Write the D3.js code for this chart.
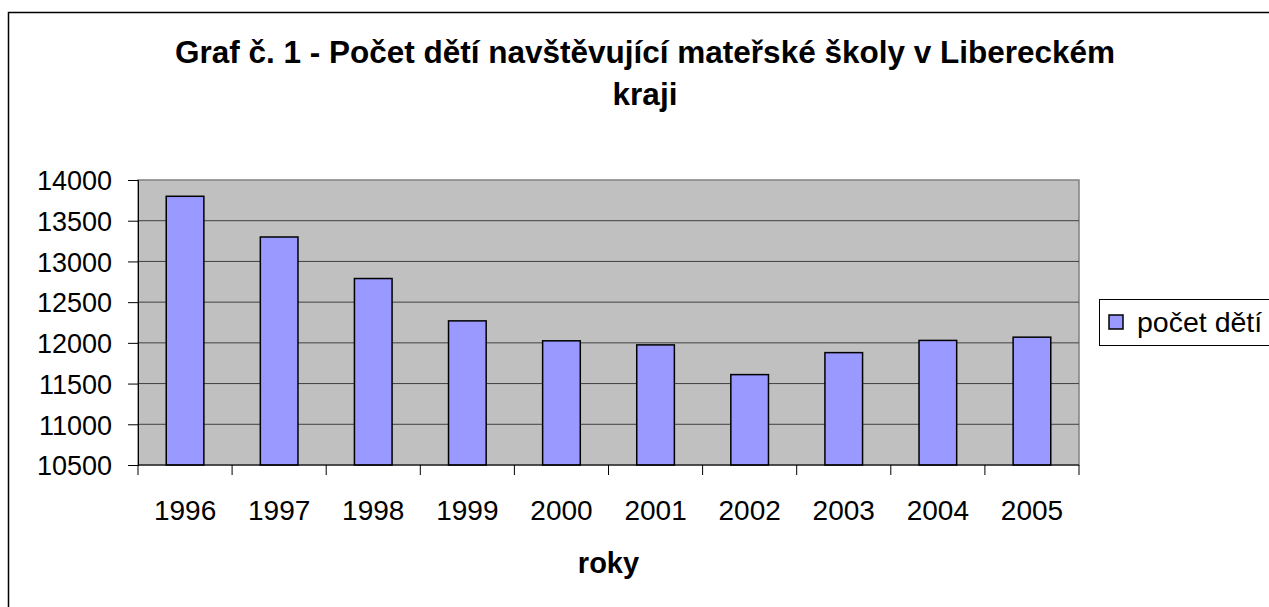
<!DOCTYPE html>
<html>
<head>
<meta charset="utf-8">
<script src="https://cdn.jsdelivr.net/npm/d3@7"></script>
<style>
  body { margin: 0; background: #fff; }
  text { font-family: "Liberation Sans", Arial, sans-serif; fill: #000; }
</style>
</head>
<body>
<svg id="chart" width="1269" height="607"></svg>
<script>
// data
let years = ["1996", "1997", "1998", "1999", "2000", "2001", "2002", "2003", "2004", "2005"];
let children = [13800, 13300, 12790, 12270, 12025, 11975, 11610, 11880, 12030, 12070];
let yTicks = [10500, 11000, 11500, 12000, 12500, 13000, 13500, 14000];

let titleLines = ["Graf č. 1 - Počet dětí navštěvující mateřské školy v Libereckém", "kraji"];
let xTitle = "roky";
let seriesName = "počet dětí";

let plot = { left: 138, top: 180, right: 1079, bottom: 465 }; // inner plot area
let barColour = "#9999ff";
let fontSize = 27;

let svg = d3.select("#chart");

// outer chart border (runs off the right and bottom edge)
svg.append("rect")
    .attr("x", 8.5).attr("y", 12.5)
    .attr("width", 1300).attr("height", 700)
    .attr("fill", "#fff")
    .attr("stroke", "#000")
    .attr("stroke-width", 1.5);

let x = d3.scaleBand()
    .domain(years)
    .range([plot.left, plot.right])
    .paddingInner(0.6)
    .paddingOuter(0.3);

let y = d3.scaleLinear()
    .domain([10500, 14000])
    .range([plot.bottom, plot.top]);

// plot background
svg.append("rect")
    .attr("x", plot.left).attr("y", plot.top)
    .attr("width", plot.right - plot.left)
    .attr("height", plot.bottom - plot.top)
    .attr("fill", "#c0c0c0")
    .attr("stroke", "#808080")
    .attr("stroke-width", 1.5);

// horizontal gridlines
svg.append("g")
    .selectAll("line")
    .data(yTicks.slice(1, -1))
    .join("line")
    .attr("x1", plot.left).attr("x2", plot.right)
    .attr("y1", d => y(d)).attr("y2", d => y(d))
    .attr("stroke", "#404040")
    .attr("stroke-width", 1);

// bars
svg.append("g")
    .selectAll("rect")
    .data(years)
    .join("rect")
    .attr("x", d => x(d))
    .attr("y", (d, i) => y(children[i]))
    .attr("width", x.bandwidth())
    .attr("height", (d, i) => y(10500) - y(children[i]))
    .attr("fill", barColour)
    .attr("stroke", "#000")
    .attr("stroke-width", 1.5);

// y axis
let yAxis = d3.axisLeft(y)
    .tickValues(yTicks)
    .tickFormat(d3.format("d"))
    .tickSize(10)
    .tickPadding(16);
let gy = svg.append("g")
    .attr("transform", "translate(" + plot.left + ",0)")
    .call(yAxis);
gy.select(".domain").attr("stroke", "#000").attr("stroke-width", 1);
gy.selectAll(".tick line").attr("stroke", "#000");
gy.selectAll("text")
    .style("font-size", fontSize + "px")
    .attr("font-family", null)
    .attr("dy", "0.36em");

// x axis: labels centered under bars, ticks between categories
let xAxis = d3.axisBottom(x).tickSize(0).tickPadding(35);
let gx = svg.append("g")
    .attr("transform", "translate(0," + plot.bottom + ")")
    .call(xAxis);
gx.select(".domain").remove();
gx.selectAll("text")
    .style("font-size", "28px")
    .attr("font-family", null);

let step = x.step();
let bounds = years.map(d => x(d) - step * x.paddingOuter()).concat([plot.right]);
svg.append("g")
    .selectAll("line")
    .data(bounds)
    .join("line")
    .attr("x1", d => d).attr("x2", d => d)
    .attr("y1", plot.bottom).attr("y2", plot.bottom + 10)
    .attr("stroke", "#000");
svg.append("line")
    .attr("x1", plot.left).attr("x2", plot.right)
    .attr("y1", plot.bottom).attr("y2", plot.bottom)
    .attr("stroke", "#000");

// title
svg.append("g")
    .selectAll("text")
    .data(titleLines)
    .join("text")
    .attr("x", 645)
    .attr("y", (d, i) => 63 + i * 42)
    .attr("text-anchor", "middle")
    .style("font-size", "31.5px")
    .style("font-weight", "bold")
    .text(d => d);

// x axis title
svg.append("text")
    .attr("x", (plot.left + plot.right) / 2)
    .attr("y", 573)
    .attr("text-anchor", "middle")
    .style("font-size", "29px")
    .style("font-weight", "bold")
    .text(xTitle);

// legend
let legend = svg.append("g").attr("transform", "translate(1099,299)");
legend.append("rect")
    .attr("x", 0.5).attr("y", 0.5)
    .attr("width", 200).attr("height", 46)
    .attr("fill", "#fff")
    .attr("stroke", "#000");
legend.append("rect")
    .attr("x", 10).attr("y", 16)
    .attr("width", 14).attr("height", 14)
    .attr("fill", barColour)
    .attr("stroke", "#000")
    .attr("stroke-width", 1.5);
legend.append("text")
    .attr("x", 38)
    .attr("y", 33)
    .style("font-size", "28.5px")
    .text(seriesName);
</script>
</body>
</html>
